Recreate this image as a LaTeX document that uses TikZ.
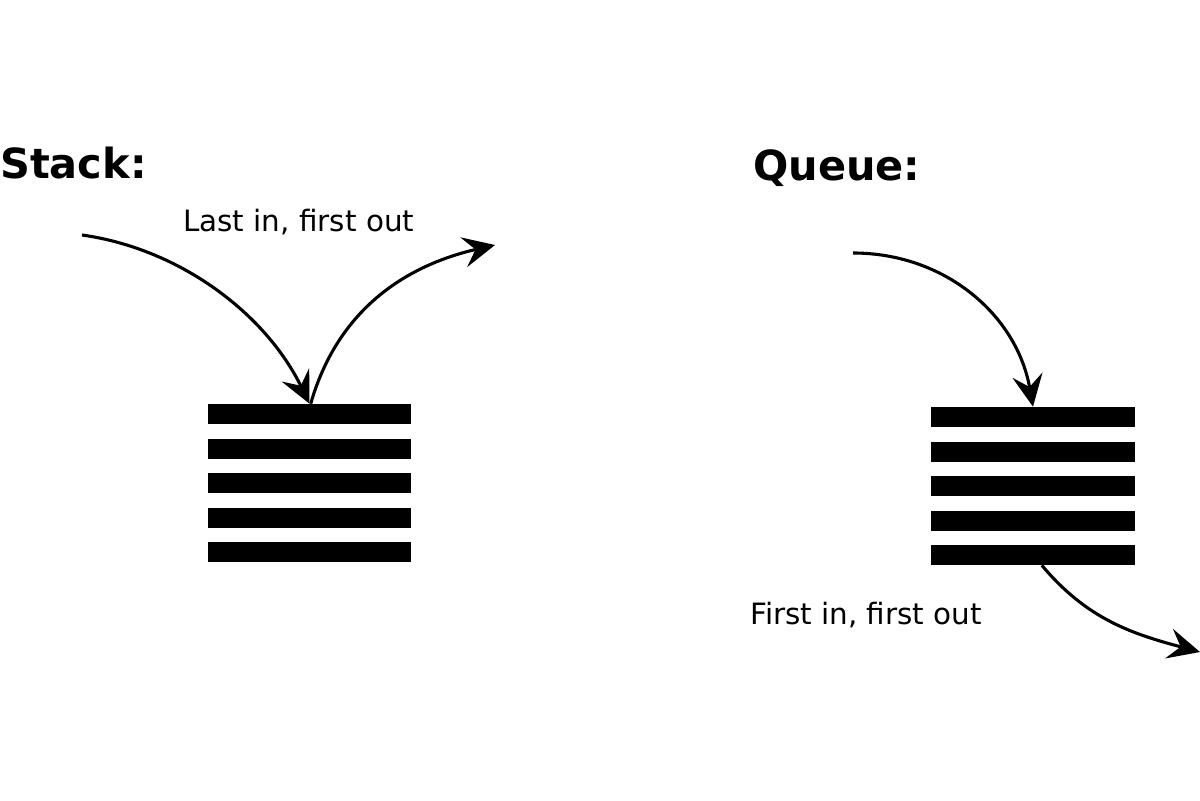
\documentclass[tikz,border=0pt]{standalone}
\usepackage{fontspec}
\setmainfont{DejaVu Sans}
\usetikzlibrary{arrows.meta}
\begin{document}
\begin{tikzpicture}[x=0.025cm,y=-0.025cm,
    bar/.style={fill=black,inner sep=0,minimum width=5.08cm,minimum height=0.5cm},
    title/.style={anchor=base west,inner sep=0,font=\fontsize{29.5}{34}\selectfont\bfseries},
    caption/.style={anchor=base west,inner sep=0,font=\fontsize{20.9}{24}\selectfont},
    flow/.style={line width=2.2pt,-{Stealth[length=0.8cm,width=0.76cm,inset=0.3cm]}}]
    \useasboundingbox (0,0) rectangle (1200,800);

    \node[title] (stacktitle) at (0,179) {Stack:};
    \node[title] (queuetitle) at (753,181) {Queue:};
    \node[caption] (lifo) at (183,232) {Last in, first out};
    \node[caption] (fifo) at (750,624) {First in, first out};

    \foreach \i in {1,...,5}{
      \node[bar] (s\i) at (309.5,{414+34.5*(\i-1)}) {};
      \node[bar] (q\i) at (1033,{417+34.5*(\i-1)}) {};
    }

    \coordinate (sin) at (82,235);
    \coordinate (sout) at (495,245);
    \coordinate (qin) at (853,253);
    \coordinate (qout) at (1200,652);

    \draw[flow] (sin) to[out=-8,in=116,looseness=0.9] (s1.north);
    \draw[flow] ([xshift=0.03cm]s1.north) to[out=74,in=193] (sout);
    \draw[flow] (qin) to[out=0,in=100] (q1.north);
    \draw[flow] ([xshift=0.22cm]q5.south) to[out=-50,in=165] (qout);
\end{tikzpicture}
\end{document}
